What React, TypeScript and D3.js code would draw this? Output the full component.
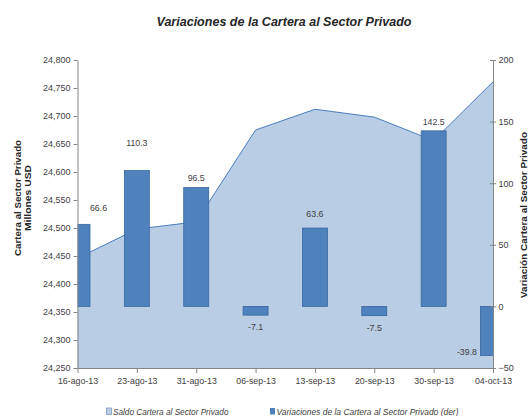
import React, { useEffect, useRef } from 'react'
import * as d3 from 'd3'

// data
const fechas = ['16-ago-13', '23-ago-13', '31-ago-13', '06-sep-13', '13-sep-13', '20-sep-13', '30-sep-13', '04-oct-13']
const saldo = [24446, 24498, 24511, 24675, 24712, 24698, 24656, 24761]
const variacion = [66.6, 110.3, 96.5, -7.1, 63.6, -7.5, 142.5, -39.8]
const ticksIzq = [24250, 24300, 24350, 24400, 24450, 24500, 24550, 24600, 24650, 24700, 24750, 24800]
const ticksDer = [-50, 0, 50, 100, 150, 200]

const W = 528, H = 416
const L = 77.5, R = 493, T = 60, B = 368
const FONT = '"Liberation Sans", Arial, sans-serif'
const TXT = '#404040'

// manual nudges for the data labels, like in the original workbook
const labelOffsets: [number, number][] = [[21, -16], [0, -28], [0, -10], [0, 12], [0, -14], [0, 12], [0, -8.5], [-16, -3.5]]

export default function App() {
  const leftRef = useRef<SVGGElement>(null)
  const rightRef = useRef<SVGGElement>(null)
  const bottomRef = useRef<SVGGElement>(null)

  const x = d3.scalePoint<string>().domain(fechas).range([L, R])
  const yL = d3.scaleLinear().domain([24250, 24800]).range([B, T])
  const yR = d3.scaleLinear().domain([-50, 200]).range([B, T])

  const area = d3.area<number>()
    .x((_, i) => x(fechas[i])!)
    .y0(B)
    .y1(d => yL(d))
  const line = d3.line<number>()
    .x((_, i) => x(fechas[i])!)
    .y(d => yL(d))

  const barW = 25

  useEffect(() => {
    const style = (g: d3.Selection<SVGGElement, unknown, null, undefined>, size: number) => {
      g.selectAll('.domain').attr('stroke', '#868686')
      g.selectAll('.tick line').attr('stroke', '#868686')
      g.selectAll('text').attr('fill', TXT).attr('font-family', FONT).attr('font-size', size)
    }
    const gl = d3.select(leftRef.current!)
    gl.call(d3.axisLeft(yL).tickValues(ticksIzq).tickFormat(d3.format(',')).tickSize(4).tickSizeOuter(0).tickPadding(3))
    style(gl, 9)

    const gr = d3.select(rightRef.current!)
    gr.call(d3.axisRight(yR).tickValues(ticksDer).tickSize(3).tickSizeOuter(0).tickPadding(2.5))
    gr.selectAll('.tick line').attr('x1', -3).attr('x2', 3)
    style(gr, 9)

    const gb = d3.select(bottomRef.current!)
    gb.call(d3.axisBottom(x).tickSize(5).tickSizeOuter(0).tickPadding(4.5))
    style(gb, 8.8)
  }, [])

  return (
    <svg width={W} height={H} style={{ position: 'absolute', left: 0, top: 0, background: '#fff' }}>
      <defs>
        <clipPath id="plot">
          <rect x={L} y={T} width={R - L} height={B - T} />
        </clipPath>
      </defs>

      <text x={284} y={21} textAnchor="middle" dominantBaseline="central" fontFamily={FONT}
        fontSize={12.8} fontStyle="italic" fontWeight="bold" fill="#262626"
        textLength={255} lengthAdjust="spacingAndGlyphs">
        Variaciones de la Cartera al Sector Privado
      </text>

      <path d={area(saldo)!} fill="#B9CDE5" />
      <path d={line(saldo)!} fill="none" stroke="#4A7EBB" strokeWidth={1} />

      <g clipPath="url(#plot)">
        {variacion.map((v, i) => (
          <rect key={i} x={x(fechas[i])! - barW / 2} y={yR(Math.max(0, v))} width={barW}
            height={Math.abs(yR(v) - yR(0))} fill="#4F81BD" stroke="#3A679E" strokeWidth={0.8} />
        ))}
      </g>

      {variacion.map((v, i) => {
        const [dx, dy] = labelOffsets[i]
        return (
          <text key={i} x={x(fechas[i])! + dx} y={yR(v) + dy} dominantBaseline="central"
            textAnchor={dx < 0 ? 'end' : 'middle'} fontFamily={FONT} fontSize={8.8} fill={TXT}>
            {v.toFixed(1)}
          </text>
        )
      })}

      <g ref={leftRef} transform={`translate(${L},0)`} />
      <g ref={rightRef} transform={`translate(${R},0)`} />
      <g ref={bottomRef} transform={`translate(0,${B})`} />

      <g fontFamily={FONT} fontWeight="bold" fontSize={9.5} fill="#262626" textAnchor="middle">
        <text transform="translate(17,198) rotate(-90)" dominantBaseline="central"
          textLength={116} lengthAdjust="spacingAndGlyphs">Cartera al Sector Privado</text>
        <text transform="translate(27.5,198) rotate(-90)" dominantBaseline="central"
          textLength={66} lengthAdjust="spacingAndGlyphs">Millones USD</text>
        <text transform="translate(523,215) rotate(-90)" dominantBaseline="central"
          textLength={166} lengthAdjust="spacingAndGlyphs">Variación Cartera al Sector Privado</text>
      </g>

      <g fontFamily={FONT} fontStyle="italic" fontSize={8.6} fill={TXT}>
        <rect x={106.5} y={408} width={5} height={6.5} fill="#B9CDE5" stroke="#7F9DC4" strokeWidth={0.8} />
        <text x={113} y={411.7} dominantBaseline="central"
          textLength={115.5} lengthAdjust="spacingAndGlyphs">Saldo Cartera al Sector Privado</text>
        <rect x={270} y={408} width={5} height={6.5} fill="#4F81BD" />
        <text x={276.5} y={411.7} dominantBaseline="central"
          textLength={182} lengthAdjust="spacingAndGlyphs">Variaciones de la Cartera al Sector Privado (der)</text>
      </g>
    </svg>
  )
}
